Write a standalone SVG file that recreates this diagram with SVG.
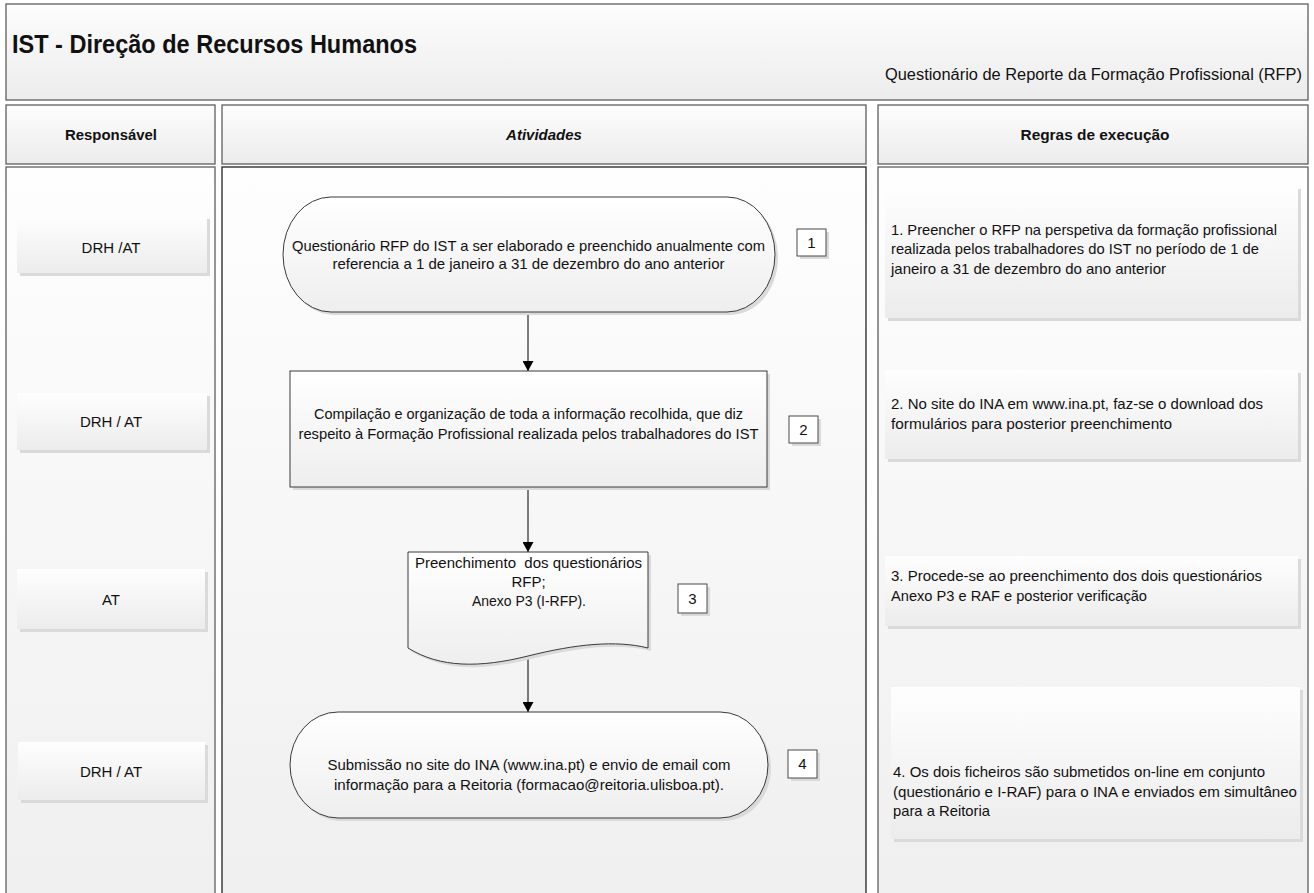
<svg xmlns="http://www.w3.org/2000/svg" width="1314" height="893" viewBox="0 0 1314 893">
<defs>
<linearGradient id="gHead" x1="0" y1="0" x2="0" y2="1"><stop offset="0" stop-color="#fdfdfd"/><stop offset="1" stop-color="#ececec"/></linearGradient>
<linearGradient id="gCol" x1="0" y1="0" x2="0" y2="1"><stop offset="0" stop-color="#fefefe"/><stop offset="1" stop-color="#efefef"/></linearGradient>
<linearGradient id="gBox" x1="0" y1="0" x2="0" y2="1"><stop offset="0" stop-color="#fefefe"/><stop offset="1" stop-color="#ececec"/></linearGradient>
<linearGradient id="gShape" x1="0" y1="0" x2="0" y2="1"><stop offset="0" stop-color="#ffffff"/><stop offset="1" stop-color="#eeeeee"/></linearGradient>
<marker id="arr" viewBox="0 0 10 11" refX="10" refY="5.5" markerWidth="11" markerHeight="11" markerUnits="userSpaceOnUse" orient="auto"><path d="M0,0 L10,5.5 L0,11 Z" fill="#000"/></marker>
<style>
.frame{fill:url(#gHead);stroke:#5f5f5f;stroke-width:1.3}
.col{fill:url(#gCol);stroke:#5f5f5f;stroke-width:1.3}
.colA{fill:url(#gCol);stroke:#222;stroke-width:1.3}
.box{fill:url(#gBox)}
.shadow{fill:#dadada}
.shape{fill:url(#gShape);stroke:#3a3a3a;stroke-width:1}
.num{fill:#ffffff;stroke:#4a4a4a;stroke-width:1}
.t{font-family:"Liberation Sans",Arial,sans-serif;font-size:15px;fill:#111}
.c{text-anchor:middle}
.b{font-weight:bold}
.conn{stroke:#000;stroke-width:1;fill:none}
</style>
</defs>
<g id="header">
<rect class="frame" x="6" y="4" width="1302" height="96"/>
<text class="t b" x="12" y="53" style="font-size:26px" textLength="405" lengthAdjust="spacingAndGlyphs">IST - Direção de Recursos Humanos</text>
<text class="t" x="885" y="80" style="font-size:16px" textLength="417" lengthAdjust="spacingAndGlyphs">Questionário de Reporte da Formação Profissional (RFP)</text>
</g>
<g id="col-headers">
<rect class="frame" x="6" y="105" width="209" height="59"/>
<text class="t b c" x="111" y="140" textLength="92" lengthAdjust="spacingAndGlyphs">Responsável</text>
<rect class="frame" x="222" y="105" width="644" height="59"/>
<text class="t b c" x="544" y="140" font-style="italic">Atividades</text>
<rect class="frame" x="878" y="105" width="430" height="59"/>
<text class="t b c" x="1095" y="140" textLength="149" lengthAdjust="spacingAndGlyphs">Regras de execução</text>
</g>
<g id="columns">
<rect class="col" x="6" y="167" width="209" height="740"/>
<rect class="colA" x="222" y="167" width="644" height="740"/>
<rect class="col" x="878" y="167" width="430" height="740"/>
</g>
<g id="resp-1">
<rect class="shadow" x="20" y="219" width="190" height="57"/>
<rect class="box" x="17" y="216" width="190" height="57"/>
<text class="t c" x="111" y="253">DRH /AT</text>
</g>
<g id="resp-2">
<rect class="shadow" x="20" y="396" width="190" height="57"/>
<rect class="box" x="17" y="393" width="190" height="57"/>
<text class="t c" x="111" y="427">DRH / AT</text>
</g>
<g id="resp-3">
<rect class="shadow" x="20" y="572" width="188" height="60"/>
<rect class="box" x="17" y="569" width="188" height="60"/>
<text class="t c" x="111" y="605">AT</text>
</g>
<g id="resp-4">
<rect class="shadow" x="21" y="745" width="187" height="58"/>
<rect class="box" x="18" y="742" width="187" height="58"/>
<text class="t c" x="111" y="777">DRH / AT</text>
</g>
<g id="connectors">
<line class="conn" x1="528" y1="312" x2="528" y2="371" marker-end="url(#arr)"/>
<line class="conn" x1="528" y1="487" x2="528" y2="552" marker-end="url(#arr)"/>
<line class="conn" x1="528" y1="657" x2="528" y2="712" marker-end="url(#arr)"/>
</g>
<g id="step-1">
<path class="shadow" d="M334,200 H730 A48,57.5 0 0 1 730,315 H334 A48,57.5 0 0 1 334,200 Z"/>
<path class="shape" d="M331,197 H727 A48,57.5 0 0 1 727,312 H331 A48,57.5 0 0 1 331,197 Z"/>
<text class="t c" x="528.5" y="251" textLength="473" lengthAdjust="spacingAndGlyphs">Questionário RFP do IST a ser elaborado e preenchido anualmente com</text>
<text class="t c" x="528.5" y="269" textLength="392" lengthAdjust="spacingAndGlyphs">referencia a 1 de janeiro a 31 de dezembro do ano anterior</text>
</g>
<g id="num-1">
<rect class="shadow" x="800" y="232" width="29" height="27"/>
<rect class="num" x="797" y="229" width="29" height="27"/>
<text class="t c" x="811.5" y="248">1</text>
</g>
<g id="step-2">
<rect class="shadow" x="293" y="374" width="477" height="116"/>
<rect class="shape" x="290" y="371" width="477" height="116"/>
<text class="t c" x="528.5" y="419" textLength="429" lengthAdjust="spacingAndGlyphs">Compilação e organização de toda a informação recolhida, que diz</text>
<text class="t c" x="528.5" y="439" textLength="460" lengthAdjust="spacingAndGlyphs">respeito à Formação Profissional realizada pelos trabalhadores do IST</text>
</g>
<g id="num-2">
<rect class="shadow" x="792" y="419" width="29" height="27"/>
<rect class="num" x="789" y="416" width="29" height="27"/>
<text class="t c" x="803.5" y="435">2</text>
</g>
<g id="step-3">
<path class="shadow" d="M411,555 H651 V651 C619,643 579,647 531,659 C483,671 443,671 411,651 Z"/>
<path class="shape" d="M408,552 H648 V648 C616,640 576,644 528,656 C480,668 440,668 408,648 Z"/>
<text class="t c" x="528.5" y="568" style="white-space:pre" textLength="227" lengthAdjust="spacingAndGlyphs">Preenchimento  dos questionários</text>
<text class="t c" x="528.5" y="587">RFP;</text>
<text class="t c" x="529" y="606" textLength="114" lengthAdjust="spacingAndGlyphs">Anexo P3 (I-RFP).</text>
</g>
<g id="num-3">
<rect class="shadow" x="681" y="587" width="29" height="29"/>
<rect class="num" x="678" y="584" width="29" height="29"/>
<text class="t c" x="692.5" y="604">3</text>
</g>
<g id="step-4">
<path class="shadow" d="M341,715 H723 A48,53 0 0 1 723,821 H341 A48,53 0 0 1 341,715 Z"/>
<path class="shape" d="M338,712 H720 A48,53 0 0 1 720,818 H338 A48,53 0 0 1 338,712 Z"/>
<text class="t c" x="529" y="770" textLength="403" lengthAdjust="spacingAndGlyphs">Submissão no site do INA (www.ina.pt) e envio de email com</text>
<text class="t c" x="529" y="790" textLength="390" lengthAdjust="spacingAndGlyphs">informação para a Reitoria (formacao@reitoria.ulisboa.pt).</text>
</g>
<g id="num-4">
<rect class="shadow" x="791" y="753" width="29" height="28"/>
<rect class="num" x="788" y="750" width="29" height="28"/>
<text class="t c" x="802.5" y="769">4</text>
</g>
<g id="rule-1">
<rect class="shadow" x="888" y="189" width="413" height="132"/>
<rect class="box" x="885" y="186" width="413" height="132"/>
<text class="t" x="891" y="235" textLength="386" lengthAdjust="spacingAndGlyphs">1. Preencher o RFP na perspetiva da formação profissional</text>
<text class="t" x="891" y="254" textLength="368" lengthAdjust="spacingAndGlyphs">realizada pelos trabalhadores do IST no período de 1 de</text>
<text class="t" x="891" y="274" textLength="275" lengthAdjust="spacingAndGlyphs">janeiro a 31 de dezembro do ano anterior</text>
</g>
<g id="rule-2">
<rect class="shadow" x="888" y="373" width="413" height="89"/>
<rect class="box" x="885" y="370" width="413" height="89"/>
<text class="t" x="891" y="409" textLength="372" lengthAdjust="spacingAndGlyphs">2. No site do INA em www.ina.pt, faz-se o download dos</text>
<text class="t" x="891" y="429" textLength="281" lengthAdjust="spacingAndGlyphs">formulários para posterior preenchimento</text>
</g>
<g id="rule-3">
<rect class="shadow" x="888" y="559" width="413" height="70"/>
<rect class="box" x="885" y="556" width="413" height="70"/>
<text class="t" x="891" y="581" textLength="371" lengthAdjust="spacingAndGlyphs">3. Procede-se ao preenchimento dos dois questionários</text>
<text class="t" x="891" y="601" textLength="256" lengthAdjust="spacingAndGlyphs">Anexo P3 e RAF e posterior verificação</text>
</g>
<g id="rule-4">
<rect class="shadow" x="894" y="690" width="409" height="152"/>
<rect class="box" x="891" y="687" width="409" height="152"/>
<text class="t" x="893" y="777" textLength="372" lengthAdjust="spacingAndGlyphs">4. Os dois ficheiros são submetidos on-line em conjunto</text>
<text class="t" x="893" y="797" textLength="404" lengthAdjust="spacingAndGlyphs">(questionário e I-RAF) para o INA e enviados em simultâneo</text>
<text class="t" x="893" y="816" textLength="97" lengthAdjust="spacingAndGlyphs">para a Reitoria</text>
</g>
</svg>
